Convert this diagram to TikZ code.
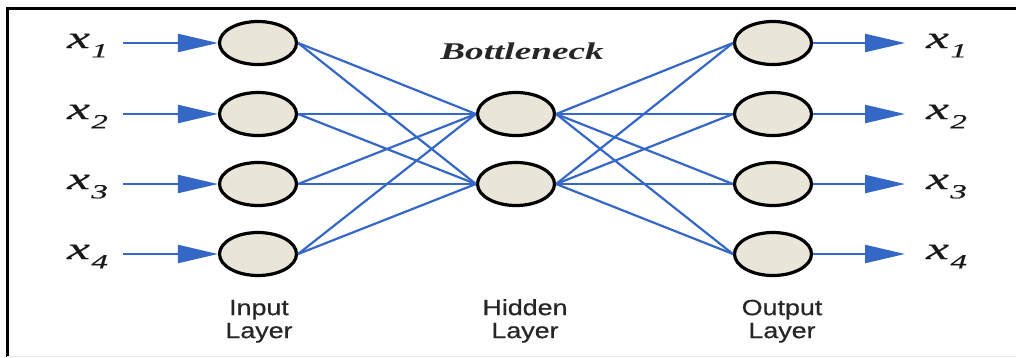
\documentclass[tikz,border=0pt]{standalone}
\usepackage{fontspec}
\usepackage{graphicx}
\setmainfont{Liberation Serif}
\setsansfont{Liberation Sans}
\newfontfamily\layerfont{Liberation Sans}[FakeBold=0.5]
\newfontfamily\varfont{Liberation Serif}[FakeBold=0.4]
\usetikzlibrary{arrows.meta,shapes.geometric}

\definecolor{nodefill}{HTML}{E9E5D9}
\definecolor{linkblue}{HTML}{3568C6}

% variable label x_k, set wide as in the drawing
\newcommand{\xvar}[1]{\scalebox{1.65}[1]{\varfont\fontsize{31}{31}\selectfont\itshape x\kern0.03em\raisebox{-0.3em}{\fontsize{20}{20}\selectfont #1}}}
\newcommand{\layername}[2]{\scalebox{1.22}[1]{\begin{tabular}{@{}c@{}}#1\\[0pt]#2\end{tabular}}}

\begin{document}
\begin{tikzpicture}[x=1pt,y=-1pt,
  neuron/.style={ellipse, draw=black, line width=3.2pt, fill=nodefill,
    minimum width=77pt, minimum height=43pt, inner sep=0pt},
  link/.style={draw=linkblue, line width=2.2pt},
  feed/.style={draw=linkblue, line width=2.2pt,
    -{Triangle[length=40pt,width=18pt]}},
  varlabel/.style={inner sep=0pt, text=black!90},
  layerlabel/.style={inner sep=0pt, text=black!85, font=\layerfont\fontsize{22}{23}\selectfont}
]
\useasboundingbox (0,0) rectangle (1016,357);

% frame
\draw[line width=3pt, line join=miter] (7,357) -- (7,8.5) -- (1016,8.5);
\draw[black!8, line width=1pt] (7,356) -- (1016,356);

% neurons
\foreach \k/\y in {1/43,2/114,3/184,4/254}{
  \node[neuron] (i\k) at (258,\y) {};
  \node[neuron] (o\k) at (773,\y) {};
}
\node[neuron] (h1) at (516,114) {};
\node[neuron] (h2) at (516,184) {};

% weights
\foreach \k in {1,2,3,4}{
  \foreach \j in {1,2}{
    \draw[link] (i\k.east) -- (h\j.west);
    \draw[link] (h\j.east) -- (o\k.west);
  }
}

% inputs and outputs
\foreach \k/\y in {1/43,2/114,3/184,4/254}{
  \coordinate (s\k) at (123,\y);
  \coordinate (t\k) at (905,\y);
  \draw[feed] (s\k) -- (i\k.west);
  \draw[feed] (o\k.east) -- (t\k);
  \node[varlabel, anchor=base west] (lx\k) at (67,\y+5) {\xvar{\k}};
  \node[varlabel, anchor=base west] (rx\k) at (926,\y+5) {\xvar{\k}};
}

% titles
\node[inner sep=0pt, anchor=base, text=black!85] (bn) at (522,59)
  {\scalebox{1.55}[1]{\fontsize{24}{24}\selectfont\bfseries\itshape Bottleneck}};
\node[layerlabel] (li) at (259,322) {\layername{Input}{Layer}};
\node[layerlabel] (lh) at (525,322) {\layername{Hidden}{Layer}};
\node[layerlabel] (lo) at (782,322) {\layername{Output}{Layer}};
\end{tikzpicture}
\end{document}
